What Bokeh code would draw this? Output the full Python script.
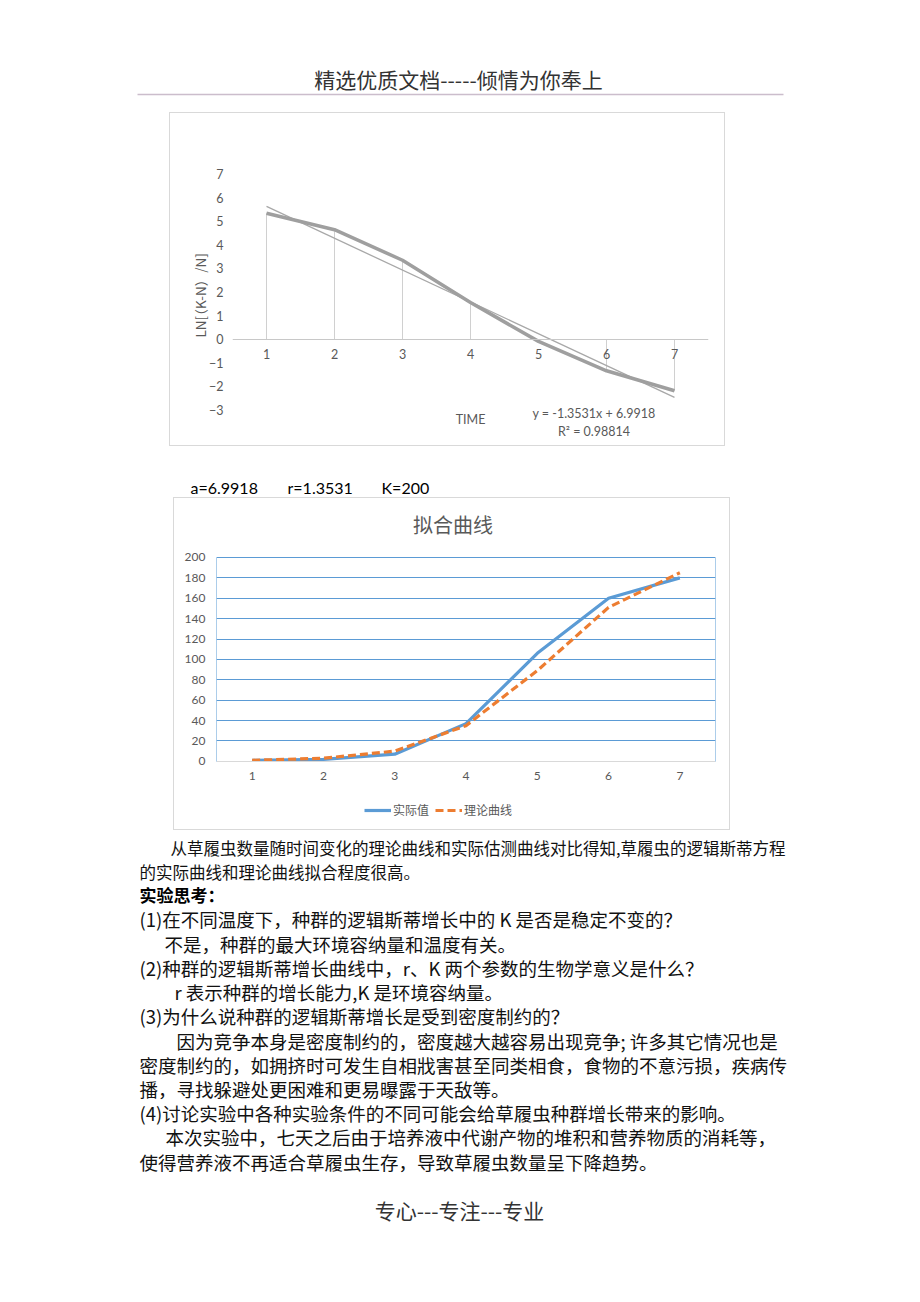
from bokeh.plotting import figure
from bokeh.models import Range1d, Label, Legend, LegendItem, FixedTicker
from bokeh.layouts import column
from bokeh.core.properties import value
from bokeh.embed import file_html
from bokeh.resources import INLINE

# ---------------- data ----------------
days = [1, 2, 3, 4, 5, 6, 7]
ln_ratio = [5.35, 4.65, 3.35, 1.55, -0.1, -1.35, -2.2]      # LN[(K-N)/N]
trend_intercept = 6.9918
trend_slope = -1.3531
trend_x = [1, 7]
actual = [1, 2, 7, 37, 106, 160, 180]                      # 实际值
theory = [1, 3, 10, 35, 89, 151, 185]                      # 理论曲线
y1_ticks = [-3, -2, -1, 0, 1, 2, 3, 4, 5, 6, 7]
y2_ticks = [0, 20, 40, 60, 80, 100, 120, 140, 160, 180, 200]
params = ["a=6.9918", "r=1.3531", "K=200"]

header_text = "精选优质文档-----倾情为你奉上"
footer_text = "专心---专注---专业"
para_lines = [
    "从草履虫数量随时间变化的理论曲线和实际估测曲线对比得知,草履虫的逻辑斯蒂方程",
    "的实际曲线和理论曲线拟合程度很高。",
]
heading = "实验思考："
qa_lines = [
    "(1)在不同温度下，种群的逻辑斯蒂增长中的 K 是否是稳定不变的？",
    "不是，种群的最大环境容纳量和温度有关。",
    "(2)种群的逻辑斯蒂增长曲线中，r、K 两个参数的生物学意义是什么？",
    "r 表示种群的增长能力,K 是环境容纳量。",
    "(3)为什么说种群的逻辑斯蒂增长是受到密度制约的？",
    "因为竞争本身是密度制约的，密度越大越容易出现竞争; 许多其它情况也是",
    "密度制约的，如拥挤时可发生自相戕害甚至同类相食，食物的不意污损，疾病传",
    "播，寻找躲避处更困难和更易曝露于天敌等。",
    "(4)讨论实验中各种实验条件的不同可能会给草履虫种群增长带来的影响。",
    "本次实验中，七天之后由于培养液中代谢产物的堆积和营养物质的消耗等，",
    "使得营养液不再适合草履虫生存，导致草履虫数量呈下降趋势。",
]

CJK_NAME = "Noto Sans CJK SC"
LAT_NAME = "Lato"
CJK = value(CJK_NAME)
LAT = value(LAT_NAME)
GREY = "#595959"
X_LO, X_HI = 0.5, 7.5


def page_fig(h):
    f = figure(width=920, height=h, x_range=Range1d(0, 920), y_range=Range1d(h, 0),
               output_backend="svg", toolbar_location=None, min_border=0,
               x_axis_location=None, y_axis_location=None)
    f.frame_align = False
    f.grid.visible = False
    f.outline_line_color = None
    f.background_fill_color = "white"
    return f


# ---------------- header ----------------
top = page_fig(112)
top.text(x=[458], y=[78], text=[header_text], text_font=CJK, text_font_size="21px",
         text_align="center", text_baseline="middle", text_color="#333333")
top.segment(x0=[137], y0=[94], x1=[783], y1=[94], line_color="#cbbdcc", line_width=1.5)

# ---------------- chart 1 ----------------
c1 = figure(width=556, height=334, x_range=Range1d(X_LO, X_HI), y_range=Range1d(-4.4, 8.4),
            output_backend="svg", toolbar_location=None,
            min_border_left=62, min_border_right=18, min_border_top=28, min_border_bottom=5)
c1.frame_align = False
c1.margin = (0, 0, 0, 169)
c1.styles = {"border": "1px solid #d9d9d9", "box-sizing": "border-box"}
c1.grid.visible = False
c1.outline_line_color = None
c1.xaxis.fixed_location = 0
c1.xaxis.ticker = FixedTicker(ticks=days)
c1.xaxis.major_tick_line_color = None
c1.xaxis.minor_tick_line_color = None
c1.xaxis.major_tick_out = 0
c1.xaxis.axis_line_color = "#c8c8c8"
c1.xaxis.major_label_standoff = 10
c1.yaxis.ticker = FixedTicker(ticks=y1_ticks)
c1.yaxis.axis_line_color = None
c1.yaxis.major_tick_line_color = None
c1.yaxis.minor_tick_line_color = None
c1.yaxis.major_tick_out = 0
c1.yaxis.major_label_standoff = 9
c1.yaxis.axis_label = "LN[（K-N）/N]"
c1.yaxis.axis_label_standoff = -4
c1.yaxis.axis_label_text_font = CJK_NAME
c1.yaxis.axis_label_text_font_style = "normal"
c1.yaxis.axis_label_text_font_size = "13.5px"
c1.yaxis.axis_label_text_color = GREY
for ax in (c1.xaxis, c1.yaxis):
    ax.major_label_text_font = LAT_NAME
    ax.major_label_text_font_size = "12.5px"
    ax.major_label_text_color = GREY

c1.segment(x0=days, y0=[0] * len(days), x1=days, y1=ln_ratio, line_color="#d0d0d0", line_width=1)
trend_y = [trend_intercept + trend_slope * x for x in trend_x]
c1.line(trend_x, trend_y, line_color="#a8a8a8", line_width=1.3)
c1.line(days, ln_ratio, line_color="#9f9f9f", line_width=3.5, line_join="round")

c1.add_layout(Label(x=4.0, y=-3.43, text="TIME", text_font=LAT_NAME, text_font_size="12.5px",
                    text_color=GREY, text_align="center", text_baseline="middle"))
c1.add_layout(Label(x=5.816, y=-3.15, text="y = -1.3531x + 6.9918", text_font=LAT_NAME,
                    text_font_size="12.5px", text_color=GREY, text_align="center",
                    text_baseline="middle"))
c1.add_layout(Label(x=5.816, y=-3.94, text="R² = 0.98814", text_font=LAT_NAME,
                    text_font_size="12.5px", text_color=GREY, text_align="center",
                    text_baseline="middle"))

# ---------------- parameter line ----------------
mid = page_fig(51)
mid.text(x=[190, 287, 381], y=[41, 41, 41], text=params, text_font=LAT, text_font_size="16px",
         text_align="left", text_baseline="middle", text_color="#000000")

# ---------------- chart 2 ----------------
c2 = figure(width=557, height=333, x_range=Range1d(X_LO, X_HI), y_range=Range1d(-61, 250),
            output_backend="svg", toolbar_location=None,
            min_border_left=42, min_border_right=16, min_border_top=8, min_border_bottom=8)
c2.frame_align = False
c2.margin = (0, 0, 0, 173)
c2.styles = {"border": "1px solid #d9d9d9", "box-sizing": "border-box"}
c2.xgrid.visible = False
c2.ygrid.ticker = FixedTicker(ticks=y2_ticks)
c2.ygrid.grid_line_color = "#5b9bd5"
c2.ygrid.grid_line_width = 1
c2.outline_line_color = None
c2.xaxis.fixed_location = 0
c2.xaxis.ticker = FixedTicker(ticks=days)
c2.xaxis.major_tick_line_color = None
c2.xaxis.minor_tick_line_color = None
c2.xaxis.major_tick_out = 0
c2.xaxis.axis_line_color = "#d9d9d9"
c2.xaxis.major_label_standoff = 11
c2.yaxis.ticker = FixedTicker(ticks=y2_ticks)
c2.yaxis.axis_line_color = None
c2.yaxis.major_tick_line_color = None
c2.yaxis.minor_tick_line_color = None
c2.yaxis.major_tick_out = 0
c2.yaxis.major_label_standoff = 11
for ax in (c2.xaxis, c2.yaxis):
    ax.major_label_text_font = LAT_NAME
    ax.major_label_text_font_size = "12px"
    ax.major_label_text_color = GREY

# plot-area side borders (left / right) from the range limits
c2.segment(x0=[X_LO, X_HI], y0=[y2_ticks[0]] * 2, x1=[X_LO, X_HI], y1=[y2_ticks[-1]] * 2,
           line_color="#5b9bd5", line_width=1)

r_act = c2.line(days, actual, line_color="#5b9bd5", line_width=3.2, line_join="round")
r_th = c2.line(days, theory, line_color="#ed7d31", line_width=3.2, line_dash="8 4")

c2.add_layout(Label(x=3.817, y=232, text="拟合曲线", text_font=CJK_NAME, text_font_size="20px",
                    text_color=GREY, text_align="center", text_baseline="middle"))
legend = Legend(items=[LegendItem(label="实际值", renderers=[r_act]),
                       LegendItem(label="理论曲线", renderers=[r_th])],
                orientation="horizontal", location=(148, 5), padding=0, margin=0,
                spacing=6, label_standoff=2, glyph_width=27, glyph_height=16,
                label_height=16, border_line_color=None, background_fill_alpha=0,
                label_text_font=CJK_NAME, label_text_font_size="12px", label_text_color=GREY)
c2.add_layout(legend)

# ---------------- body text ----------------
bottom = page_fig(472)
Y0 = 830
bottom.text(x=[170, 139], y=[847 - Y0, 871 - Y0], text=para_lines, text_font=CJK,
            text_font_size="16.5px", text_align="left", text_baseline="middle",
            text_color="#111111")
bottom.text(x=[139], y=[894 - Y0], text=[heading], text_font=CJK, text_font_size="17px",
            text_font_style="bold", text_align="left", text_baseline="middle",
            text_color="#000000")
qa_x = [139, 164, 139, 174, 139, 176, 139, 139, 139, 165, 139]
qa_y = [918, 943, 967, 991, 1015, 1040, 1064, 1088, 1112, 1136, 1161]
bottom.text(x=qa_x, y=[v - Y0 for v in qa_y], text=qa_lines, text_font=CJK,
            text_font_size="18.5px", text_align="left", text_baseline="middle",
            text_color="#111111")
bottom.text(x=[459], y=[1209 - Y0], text=[footer_text], text_font=CJK, text_font_size="21px",
            text_align="center", text_baseline="middle", text_color="#333333")

page = column(top, c1, mid, c2, bottom, spacing=0)
open("out.html", "w").write(file_html(page, INLINE))
